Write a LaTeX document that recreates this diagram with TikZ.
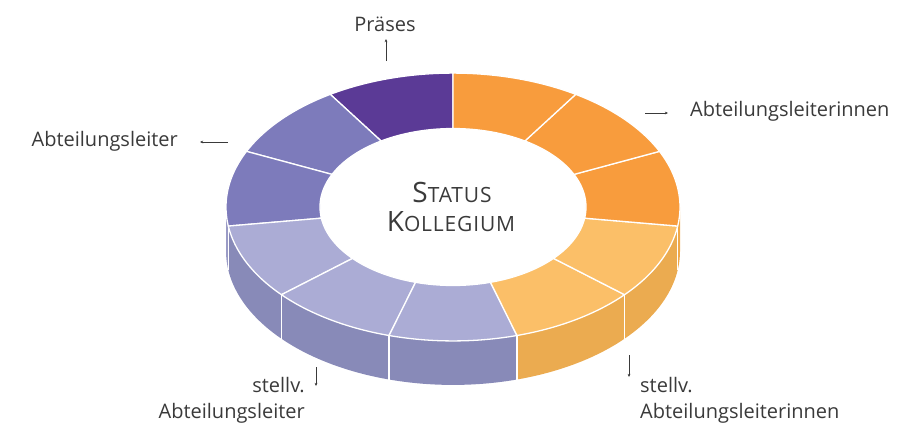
\documentclass[tikz,border=0pt]{standalone}
\usepackage{fontspec}
\setmainfont{Open Sans}
\usetikzlibrary{arrows.meta}

\definecolor{plumdark}{HTML}{5B3A96}
\definecolor{plummid}{HTML}{7D7BBB}
\definecolor{plumlight}{HTML}{ABACD5}
\definecolor{amber}{HTML}{F89C3D}
\definecolor{amberlight}{HTML}{FBBF68}
\definecolor{sideplum}{HTML}{888AB8}
\definecolor{sideplumedge}{HTML}{9A9BC6}
\definecolor{sideamber}{HTML}{EBAB50}
\definecolor{sideamberedge}{HTML}{EFA84A}
\definecolor{ink}{HTML}{3A3A3A}

% ring geometry (pixel units, y grows downwards)
\def\cx{453}
\def\cy{207}
\def\ro{227}
\def\ri{133}
\def\fl{0.59}
\def\dep{44}

\tikzset{
  lbl/.style={text=ink, inner sep=0pt, font=\fontsize{20}{24}\selectfont},
  ptr/.style={draw=ink, line width=0.8pt, -{Stealth[length=3.2pt,width=2.8pt]}},
  seam/.style={draw=white, line width=1.3pt},
  segment/.style={seam, line join=round}
}

\begin{document}
\begin{tikzpicture}[x=1pt,y=-1pt]
\useasboundingbox (0,0) rectangle (910,424);

% extruded side of the ring (front half only)
\foreach \a/\b/\c in {180/188.18/sideplumedge, 188.18/220.91/sideplum,
    220.91/253.64/sideplum, 253.64/286.36/sideplum, 286.36/319.09/sideamber,
    319.09/351.82/sideamber, 351.82/360/sideamberedge}
  \fill[\c] plot[domain=\a:\b, samples=24] ({\cx+\ro*cos(\x)},{\cy-\fl*\ro*sin(\x)})
    -- plot[domain=\b:\a, samples=24] ({\cx+\ro*cos(\x)},{\cy+\dep-\fl*\ro*sin(\x)})
    -- cycle;

% vertical seams on the side
\foreach \t in {188.18, 220.91, 253.64, 286.36, 319.09, 351.82}
  \draw[seam] ({\cx+\ro*cos(\t)},{\cy-\fl*\ro*sin(\t)}) -- ++(0,\dep);

% top face: eleven ring segments
\foreach \k/\c in {0/plumdark, 1/plummid, 2/plummid, 3/plumlight, 4/plumlight,
    5/plumlight, 6/amberlight, 7/amberlight, 8/amber, 9/amber, 10/amber} {
  \pgfmathsetmacro\a{90+\k*360/11}
  \pgfmathsetmacro\b{90+(\k+1)*360/11}
  \filldraw[segment, fill=\c]
    plot[domain=\a:\b, samples=30] ({\cx+\ro*cos(\x)},{\cy-\fl*\ro*sin(\x)})
    -- plot[domain=\b:\a, samples=30] ({\cx+\ri*cos(\x)},{\cy-\fl*\ri*sin(\x)})
    -- cycle;
}

% centre title in small capitals
\node[text=ink, inner sep=0pt, anchor=base] (title1) at (452,202)
  {\addfontfeature{LetterSpace=4}\fontsize{28}{30}\selectfont S\fontsize{21}{30}\selectfont TATUS};
\node[text=ink, inner sep=0pt, anchor=base] (title2) at (451,231)
  {\addfontfeature{LetterSpace=4}\fontsize{28}{30}\selectfont K\fontsize{21}{30}\selectfont OLLEGIUM};

% labels
\node[lbl, anchor=base] (praeses) at (385,31) {Präses};
\node[lbl, anchor=base west] (leiterinnen) at (690,116) {Abteilungsleiterinnen};
\node[lbl, anchor=base east] (leiter) at (178,146) {Abteilungsleiter};
\node[lbl, anchor=base east] (stvleiter1) at (305,392) {stellv.};
\node[lbl, anchor=base east] (stvleiter2) at (305,418) {Abteilungsleiter};
\node[lbl, anchor=base west] (stvleiterinnen1) at (640,392) {stellv.};
\node[lbl, anchor=base west] (stvleiterinnen2) at (640,418) {Abteilungsleiterinnen};

% pointer arrows
\coordinate (p1a) at (386,61);  \coordinate (p1b) at (386,39);
\coordinate (p2a) at (645,113); \coordinate (p2b) at (668,113);
\coordinate (p3a) at (228,142); \coordinate (p3b) at (200,142);
\coordinate (p4a) at (316,367); \coordinate (p4b) at (316,386);
\coordinate (p5a) at (629,355); \coordinate (p5b) at (629,377);
\draw[ptr] (p1a) -- (p1b);
\draw[ptr] (p2a) -- (p2b);
\draw[ptr] (p3a) -- (p3b);
\draw[ptr] (p4a) -- (p4b);
\draw[ptr] (p5a) -- (p5b);
\end{tikzpicture}
\end{document}
